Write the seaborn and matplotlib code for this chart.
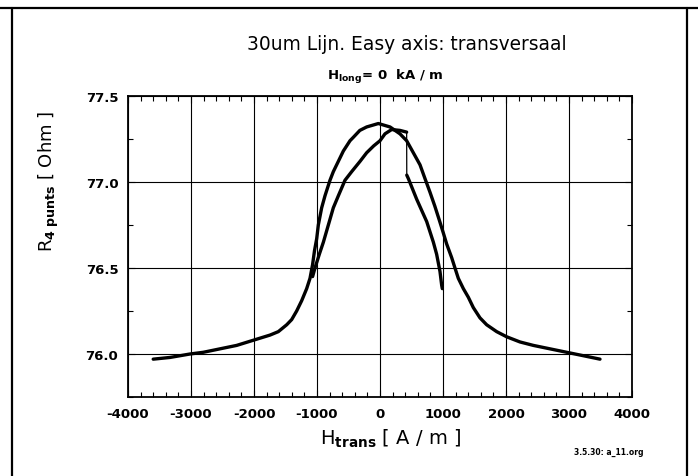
import numpy as np
import pandas as pd
import matplotlib
matplotlib.use("Agg")
import matplotlib.pyplot as plt
from matplotlib.ticker import MultipleLocator, FixedLocator
from matplotlib.lines import Line2D
import seaborn as sns

# Transverse field sweep, outer branch (full range)
outer_h = [-3600, -3333, -3016, -2804, -2540, -2275, -2011, -1746, -1614, -1481,
           -1402, -1323, -1243, -1164, -1111, -1070, -1040, -1005, -979, -926,
           -873, -794, -741, -688, -582, -476, -423, -320, -212, -26, 159, 317,
           423, 529, 635, 714, 794, 870, 940, 1000, 1058, 1138, 1190, 1243, 1323,
           1402, 1481, 1587, 1693, 1852, 2011, 2222, 2434, 2698, 2963, 3228, 3492]
outer_r = [75.97, 75.98, 76.00, 76.01, 76.03, 76.05, 76.08, 76.11, 76.13, 76.17,
           76.20, 76.25, 76.31, 76.38, 76.44, 76.52, 76.60, 76.67, 76.75, 76.85,
           76.92, 77.01, 77.06, 77.10, 77.18, 77.24, 77.26, 77.30, 77.32, 77.34,
           77.32, 77.28, 77.24, 77.17, 77.10, 77.02, 76.94, 76.86, 76.78, 76.71,
           76.64, 76.56, 76.50, 76.44, 76.38, 76.33, 76.27, 76.21, 76.17, 76.13,
           76.10, 76.07, 76.05, 76.03, 76.01, 75.99, 75.97]

# Inner branch before the switching jump
inner1_h = [-1070, -1032, -963, -899, -820, -741, -661, -556, -450, -317, -212,
            -100, 0, 79, 185, 317, 423]
inner1_r = [76.45, 76.50, 76.58, 76.65, 76.75, 76.85, 76.92, 77.01, 77.06, 77.12,
            77.17, 77.21, 77.24, 77.28, 77.305, 77.30, 77.29]

# Inner branch after the switching jump
inner2_h = [425, 450, 582, 741, 847, 899, 952, 979, 989]
inner2_r = [77.04, 77.02, 76.90, 76.77, 76.65, 76.58, 76.48, 76.40, 76.38]

x_ticks = [-4000, -3000, -2000, -1000, 0, 1000, 2000, 3000, 4000]
y_ticks = [76.0, 76.5, 77.0, 77.5]

df = pd.concat([
    pd.DataFrame({"H": outer_h, "R": outer_r, "branch": "outer"}),
    pd.DataFrame({"H": inner1_h, "R": inner1_r, "branch": "inner1"}),
    pd.DataFrame({"H": inner2_h, "R": inner2_r, "branch": "inner2"}),
], ignore_index=True)

sns.set_theme(style="ticks")
plt.rcParams["font.family"] = ["DejaVu Sans"]
plt.rcParams["mathtext.default"] = "regular"
for key in ("text.color", "axes.labelcolor", "xtick.color", "ytick.color",
            "axes.edgecolor"):
    plt.rcParams[key] = "black"

W, H = 698, 477
fig = plt.figure(figsize=(W / 100, H / 100), dpi=100)
ax = fig.add_axes([128 / W, 1 - 398 / H, (632 - 128) / W, (398 - 97) / H])

sns.lineplot(data=df, x="H", y="R", units="branch", estimator=None, sort=False,
             color="black", lw=2.4, ax=ax, solid_capstyle="round",
             solid_joinstyle="round")

# thin connector across the switching jump
ax.plot([inner1_h[-1], inner2_h[0]], [inner1_r[-1], inner2_r[0]],
        color="black", lw=0.9)

ax.set_xlim(-4000, 4000)
ax.set_ylim(75.75, 77.5)
ax.xaxis.set_major_locator(FixedLocator(x_ticks))
ax.yaxis.set_major_locator(FixedLocator(y_ticks))
ax.xaxis.set_minor_locator(MultipleLocator(200))
ax.yaxis.set_minor_locator(MultipleLocator(0.25))
ax.set_xticklabels([str(v) for v in x_ticks])
ax.set_yticklabels([f"{v:.1f}" for v in y_ticks])

ax.grid(True, which="major", color="black", lw=0.8)
ax.tick_params(which="both", direction="in", top=True, right=True,
               colors="black", labelsize=9.5)
ax.tick_params(which="major", length=5, width=0.8, pad=7)
ax.tick_params(which="minor", length=3.5, width=0.8)
for lbl in ax.get_xticklabels() + ax.get_yticklabels():
    lbl.set_fontweight("bold")
for sp in ax.spines.values():
    sp.set_color("black")
    sp.set_linewidth(1.3)

ax.set_xlabel(r"H$_{\mathbf{trans}}$ [ A / m ]", fontsize=14)
ax.xaxis.set_label_coords(0.52, -0.10)
ax.set_ylabel(r"R$_{\mathbf{4\ punts}}$ [ Ohm ]", fontsize=13)
ax.yaxis.set_label_coords(-0.132, 0.72)

fig.text(407 / W, 1 - 44 / H, "30um Lijn. Easy axis: transversaal",
         ha="center", va="center", fontsize=13.4, color="black")
fig.text(385 / W, 1 - 77 / H, r"H$_{\mathbf{long}}$= 0  kA / m",
         ha="center", va="center", fontsize=9.5, fontweight="bold", color="black")
fig.text(643 / W, 1 - 452 / H, "3.5.30: a_11.org", ha="right", va="center",
         fontsize=5.5, fontweight="bold", color="black")

# page frame
fig.add_artist(Line2D([0, 1], [1 - 9 / H, 1 - 9 / H], color="black", lw=1.6,
                      transform=fig.transFigure))
fig.add_artist(Line2D([12 / W, 12 / W], [0, 1 - 9 / H], color="black", lw=1.6,
                      transform=fig.transFigure))
fig.add_artist(Line2D([687 / W, 687 / W], [0, 1 - 9 / H], color="black", lw=1.6,
                      transform=fig.transFigure))

fig.savefig("out.png", dpi=100, facecolor="white")
